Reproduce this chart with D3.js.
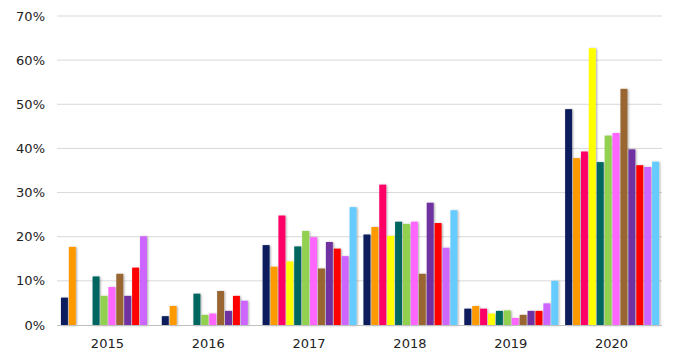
<!DOCTYPE html>
<html>
<head>
<meta charset="utf-8">
<script src="https://cdn.jsdelivr.net/npm/d3@7"></script>
<style>
  body { margin: 0; background: #fff; }
  text { font-family: "DejaVu Sans", Verdana, sans-serif; fill: #222; }
</style>
</head>
<body>
<div id="chart"></div>
<script>
// Chart data
const years = ["2015", "2016", "2017", "2018", "2019", "2020"];
const yTicks = [0, 10, 20, 30, 40, 50, 60, 70];
const seriesColors = [
  "#0b1f5c", "#ff9900", "#ff0066", "#ffff00", "#006661", "#92d050",
  "#ff66ff", "#996633", "#7030a0", "#ff0000", "#cc66ff", "#66ccff"
];
// one array per series, one value per year (null = no bar)
const s1 = [6.2, 2.0, 18.1, 20.5, 3.7, 48.9];
const s2 = [17.7, 4.3, 13.2, 22.2, 4.3, 37.8];
const s3 = [null, null, 24.8, 31.8, 3.7, 39.3];
const s4 = [null, null, 14.4, 20.2, 2.6, 62.7];
const s5 = [11.0, 7.1, 17.8, 23.4, 3.2, 36.9];
const s6 = [6.6, 2.3, 21.3, 22.9, 3.3, 42.9];
const s7 = [8.6, 2.6, 19.9, 23.4, 1.6, 43.5];
const s8 = [11.6, 7.7, 12.8, 11.6, 2.3, 53.5];
const s9 = [6.6, 3.2, 18.8, 27.7, 3.2, 39.8];
const s10 = [13.0, 6.6, 17.3, 23.1, 3.2, 36.2];
const s11 = [20.1, 5.5, 15.6, 17.5, 4.9, 35.8];
const s12 = [null, null, 26.7, 26.0, 10.0, 37.0];
const series = [s1, s2, s3, s4, s5, s6, s7, s8, s9, s10, s11, s12];

const W = 688, H = 363;
const MARGIN = { LEFT: 57, RIGHT: 26, TOP: 16, BOTTOM: 38 };
const WIDTH = W - MARGIN.LEFT - MARGIN.RIGHT;
const HEIGHT = H - MARGIN.TOP - MARGIN.BOTTOM;

const svg = d3.select("#chart").append("svg")
  .attr("width", W)
  .attr("height", H);

const defs = svg.append("defs");
defs.append("filter")
  .attr("id", "shadow")
  .attr("x", "-50%").attr("y", "-10%")
  .attr("width", "200%").attr("height", "120%")
  .append("feDropShadow")
  .attr("dx", 1).attr("dy", 0.5)
  .attr("stdDeviation", 0.8)
  .attr("flood-color", "#000")
  .attr("flood-opacity", 0.35);

const g = svg.append("g")
  .attr("transform", "translate(" + MARGIN.LEFT + "," + MARGIN.TOP + ")");

// Scales
const x = d3.scaleBand().domain(years).range([0, WIDTH]).paddingInner(0).paddingOuter(0);
const xs = d3.scaleBand().domain(d3.range(series.length)).range([3, x.bandwidth() - 2]).padding(0.12);
const y = d3.scaleLinear().domain([0, 70]).range([HEIGHT, 0]);

// Gridlines
g.append("g").selectAll("line")
  .data(yTicks.filter(t => t > 0))
  .join("line")
  .attr("x1", 0).attr("x2", WIDTH)
  .attr("y1", d => y(d)).attr("y2", d => y(d))
  .attr("stroke", "#d9d9d9")
  .attr("stroke-width", 1);

// Y axis labels
g.append("g").selectAll("text")
  .data(yTicks)
  .join("text")
  .attr("x", -12)
  .attr("y", d => y(d))
  .attr("dy", "0.35em")
  .attr("text-anchor", "end")
  .style("font-size", "13px")
  .text(d => d + "%");

// Bars
const groups = g.selectAll(".year")
  .data(years)
  .join("g")
  .attr("class", "year")
  .attr("transform", d => "translate(" + x(d) + ",0)");

groups.selectAll("rect")
  .data((d, i) => series.map((s, k) => ({ k: k, v: s[i] })).filter(e => e.v !== null))
  .join("rect")
  .attr("x", d => xs(d.k))
  .attr("width", xs.bandwidth())
  .attr("y", d => y(d.v))
  .attr("height", d => y(0) - y(d.v))
  .attr("fill", d => seriesColors[d.k])
  .attr("filter", "url(#shadow)");

// X axis line
g.append("line")
  .attr("x1", 0).attr("x2", WIDTH)
  .attr("y1", y(0) + 0.5).attr("y2", y(0) + 0.5)
  .attr("stroke", "#bfbfbf");

// X labels
g.append("g").selectAll("text")
  .data(years)
  .join("text")
  .attr("x", d => x(d) + x.bandwidth() / 2)
  .attr("y", HEIGHT + 23)
  .attr("text-anchor", "middle")
  .style("font-size", "13px")
  .text(d => d);
</script>
</body>
</html>
